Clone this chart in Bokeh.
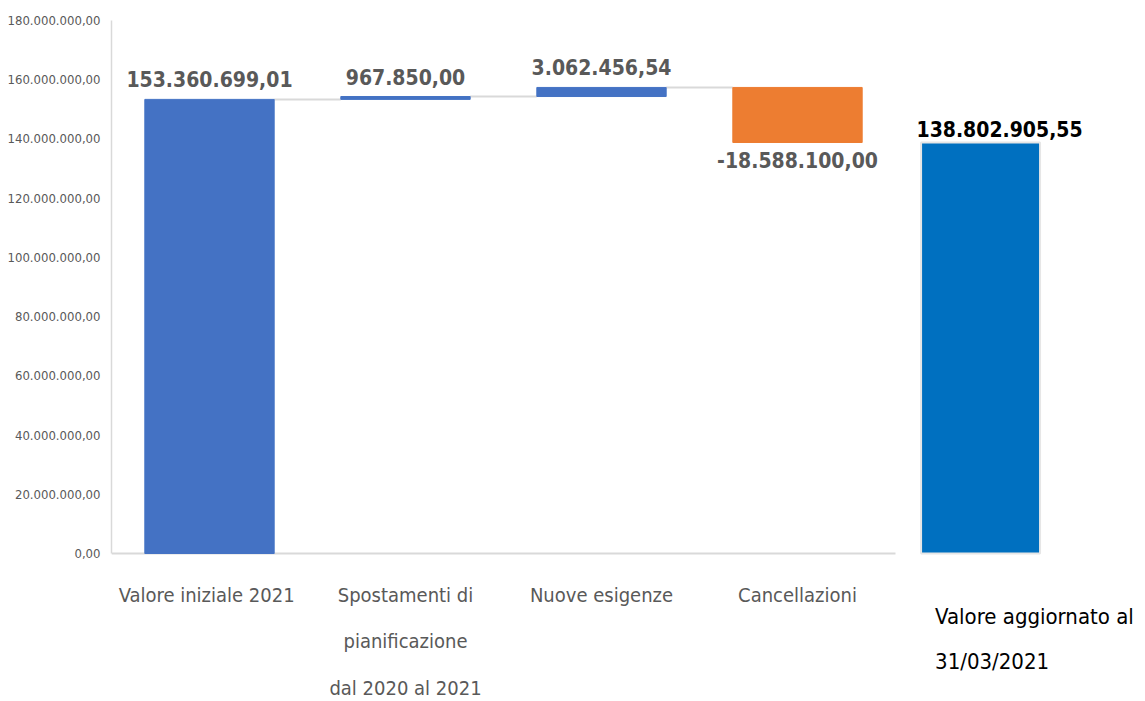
from bokeh.plotting import figure
from bokeh.models import Range1d, FixedTicker, ColumnDataSource
from bokeh.core.properties import value
from bokeh.embed import file_html
from bokeh.resources import INLINE

# ---- data ----
categories = ["Valore iniziale  2021",
              "Spostamenti di\npianificazione\ndal 2020 al 2021",
              "Nuove esigenze",
              "Cancellazioni"]
start_value = 153360699.01
deltas = [967850.00, 3062456.54, -18588100.00]
final_category = "Valore aggiornato al\n31/03/2021"
final_value = 138802905.55
value_labels = ["153.360.699,01", "967.850,00", "3.062.456,54", "-18.588.100,00"]
final_label = "138.802.905,55"
y_ticks = [0, 20000000, 40000000, 60000000, 80000000, 100000000,
           120000000, 140000000, 160000000, 180000000]
y_tick_labels = ["0,00", "20.000.000,00", "40.000.000,00", "60.000.000,00",
                 "80.000.000,00", "100.000.000,00", "120.000.000,00",
                 "140.000.000,00", "160.000.000,00", "180.000.000,00"]

FONT = "'DejaVu Sans Condensed', 'Roboto', sans-serif"
W, H = 1145, 701
top_px, zero_px, left_px = 20, 553, 111
slot_px = 196

y_end = 180000000
px_per_unit = (zero_px - top_px) / y_end
y_start = y_end - (H - top_px) / px_per_unit
x_end = (W - left_px) / slot_px

p = figure(width=W, height=H, output_backend="svg", toolbar_location=None,
           x_range=Range1d(0, x_end), y_range=Range1d(y_start, y_end),
           x_axis_location=None, min_border_left=left_px, min_border_right=0,
           min_border_top=top_px, min_border_bottom=0)
p.outline_line_color = None
p.xgrid.visible = False
p.ygrid.visible = False
p.background_fill_color = "white"
p.border_fill_color = "white"

ax = p.yaxis[0]
ax.ticker = FixedTicker(ticks=y_ticks)
ax.major_label_overrides = {t: l for t, l in zip(y_ticks, y_tick_labels)}
ax.bounds = (0, y_end)
ax.axis_line_color = "#D9D9D9"
ax.axis_line_width = 1.5
ax.major_tick_line_color = None
ax.minor_tick_line_color = None
ax.major_label_text_font = FONT
ax.major_label_text_font_size = "13px"
ax.major_label_text_color = "#595959"
ax.major_label_standoff = 5

# waterfall computation
n = len(categories)
xs = [i + 0.5 for i in range(n)]
bottoms, tops = [0], [start_value]
level = start_value
for d in deltas:
    bottoms.append(level)
    level += d
    tops.append(level)
colors = ["#4472C4"] + ["#4472C4" if d >= 0 else "#ED7D31" for d in deltas]
bar_w = 0.66

# baseline
p.segment(x0=[0], x1=[n], y0=[0], y1=[0], line_color="#D9D9D9", line_width=2)

# connectors
cx0, cx1, cy = [], [], []
for i in range(n - 1):
    cx0.append(xs[i] + bar_w / 2)
    cx1.append(xs[i + 1] - bar_w / 2)
    cy.append(tops[i])
p.segment(x0=cx0, x1=cx1, y0=cy, y1=cy, line_color="#D9D9D9", line_width=2)

src = ColumnDataSource(dict(x=xs, bottom=bottoms, top=tops, color=colors))
p.vbar(x="x", bottom="bottom", top="top", width=bar_w, fill_color="color",
       line_color="color", source=src)

# value labels
up_x, up_y, up_t, dn_x, dn_y, dn_t = [], [], [], [], [], []
for i in range(n):
    if tops[i] >= bottoms[i]:
        up_x.append(xs[i]); up_y.append(tops[i]); up_t.append(value_labels[i])
    else:
        dn_x.append(xs[i]); dn_y.append(tops[i]); dn_t.append(value_labels[i])
p.text(x=up_x, y=up_y, text=up_t, text_font=value(FONT), text_font_style="bold",
       text_font_size="21px", text_color="#595959", text_align="center",
       text_baseline="alphabetic", y_offset=-20)
p.text(x=dn_x, y=dn_y, text=dn_t, text_font=value(FONT), text_font_style="bold",
       text_font_size="21px", text_color="#595959", text_align="center",
       text_baseline="top", y_offset=10)

# category labels
p.text(x=xs, y=[0] * n, text=categories, text_font=value(FONT),
       text_font_size="20px", text_color="#595959", text_align="center",
       text_baseline="top", y_offset=29, text_line_height=1.95)

# final bar (separate)
final_x = 4.434
final_w = 0.607
p.vbar(x=[final_x], bottom=[0], top=[final_value], width=final_w,
       fill_color="#0070C0", line_color="#E6E6E6", line_width=2)
p.text(x=[final_x], y=[final_value], text=[final_label], text_font=value(FONT),
       text_font_style="bold", text_font_size="21px", text_color="#000000",
       text_align="center", text_baseline="alphabetic", y_offset=-13, x_offset=19)
p.text(x=[final_x - final_w / 2], y=[0], text=[final_category], text_font=value(FONT),
       text_font_size="22px", text_color="#000000", text_align="left",
       text_baseline="top", y_offset=50, x_offset=14, text_line_height=1.8)

open("out.html", "w").write(file_html(p, INLINE))
